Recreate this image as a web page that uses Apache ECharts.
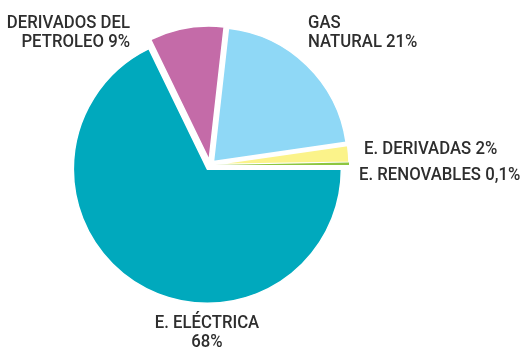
<!DOCTYPE html>
<html>
<head>
<meta charset="utf-8">
<script src="https://cdn.jsdelivr.net/npm/echarts@6/dist/echarts.min.js"></script>
<style>
  html, body { margin: 0; padding: 0; background: #ffffff; }
  #chart { width: 520px; height: 350px; }
</style>
</head>
<body>
<div id="chart"></div>
<script>
// Energy consumption shares by source (%)
const sources = ['E. ELÉCTRICA', 'DERIVADOS DEL PETROLEO', 'GAS NATURAL', 'E. DERIVADAS', 'E. RENOVABLES'];
const shares = [68, 9, 21, 2, 0.1];
const shareText = ['68%', '9%', '21%', '2%', '0,1%'];
const colors = ['#00a9bd', '#c46ba8', '#8fd8f6', '#fbf38a', '#8dc63f'];

// Label text lines (line breaks as printed)
const labelLines = [
  ['E. ELÉCTRICA', shareText[0]],
  ['DERIVADOS DEL', 'PETROLEO ' + shareText[1]],
  ['GAS', 'NATURAL ' + shareText[2]],
  ['E. DERIVADAS ' + shareText[3]],
  ['E. RENOVABLES ' + shareText[4]]
];

// Where each label sits around the pie (anchor point, alignment)
const labelPlace = [
  { x: 207, y: 333, align: 'center' },
  { x: 130, y: 33, align: 'right' },
  { x: 308, y: 33, align: 'left' },
  { x: 364, y: 149, align: 'left' },
  { x: 359, y: 175, align: 'left' }
];

const labelFont = '500 18px Roboto, "DejaVu Sans Condensed", sans-serif';
const narrow = 0.93;

const data = sources.map((name, i) => ({
  name: name,
  value: shares[i],
  selected: true,
  itemStyle: { color: colors[i], borderWidth: shares[i] < 1 ? 0 : 1.5 }
}));

const labels = labelLines.map((lines, i) => ({
  type: 'text',
  x: labelPlace[i].x,
  y: labelPlace[i].y,
  scaleX: narrow,
  silent: true,
  style: {
    text: lines.join('\n'),
    x: 0,
    y: 0,
    textAlign: labelPlace[i].align,
    textVerticalAlign: 'middle',
    font: labelFont,
    lineHeight: 19,
    fill: '#2e2e2e'
  }
}));

const chart = echarts.init(document.getElementById('chart'));
chart.setOption({
  animation: false,
  graphic: labels,
  series: [{
    type: 'pie',
    center: [210, 165],
    radius: [0, 134],
    startAngle: 0,
    clockwise: true,
    minAngle: 1,
    selectedMode: 'multiple',
    selectedOffset: 5,
    itemStyle: { borderColor: '#ffffff', borderWidth: 1.5 },
    emphasis: { disabled: true },
    label: { show: false },
    labelLine: { show: false },
    data: data
  }]
});
</script>
</body>
</html>
